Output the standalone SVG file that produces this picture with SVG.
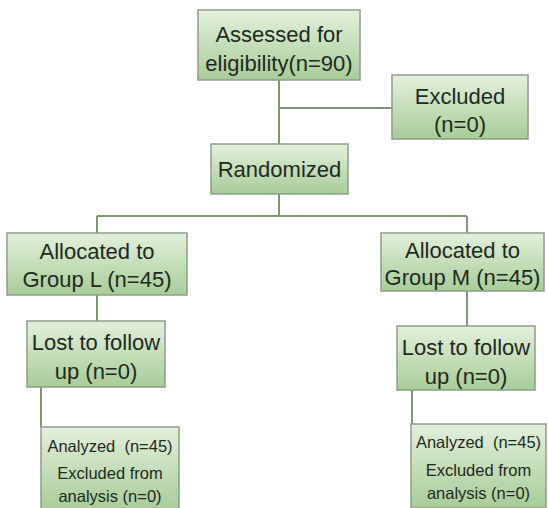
<svg xmlns="http://www.w3.org/2000/svg" width="548" height="508" viewBox="0 0 548 508">
<defs>
<linearGradient id="g" x1="0" y1="0" x2="0" y2="1">
<stop offset="0" stop-color="#e3f0dc"/>
<stop offset="1" stop-color="#a8cc98"/>
</linearGradient>
<style>
.b{fill:url(#g);stroke:#8e9d8a;stroke-width:1.5}
.t{font-family:"Liberation Sans",Arial,sans-serif;fill:#1e2a1e;text-anchor:middle}
.l{font-size:22px}
.s{font-size:16.5px}
.c{stroke:#7f9775;stroke-width:2;fill:none}
</style>
</defs>
<rect width="548" height="508" fill="#fff"/>
<g id="connectors">
<path class="c" d="M279,80V144M279,108H392M279,194V216M97,216H467M97,216V233M467,216V233M97,295V321M467,291V326M41,387V427M412,390V424"/>
</g>
<g id="assessed">
<rect class="b" x="198" y="10" width="162" height="70"/>
<text class="t l" x="279" y="42">Assessed for</text>
<text class="t l" x="279" y="71">eligibility(n=90)</text>
</g>
<g id="excluded">
<rect class="b" x="392" y="75" width="136" height="64"/>
<text class="t l" x="460" y="104">Excluded</text>
<text class="t l" x="460" y="132">(n=0)</text>
</g>
<g id="randomized">
<rect class="b" x="211" y="144" width="137" height="50"/>
<text class="t l" x="279.5" y="177">Randomized</text>
</g>
<g id="allocL">
<rect class="b" x="7" y="233" width="180" height="62"/>
<text class="t l" x="97" y="259">Allocated to</text>
<text class="t l" x="97" y="287">Group L (n=45)</text>
</g>
<g id="allocM">
<rect class="b" x="381" y="233" width="163" height="58"/>
<text class="t l" x="462.5" y="258">Allocated to</text>
<text class="t l" x="462.5" y="285">Group M (n=45)</text>
</g>
<g id="lostL">
<rect class="b" x="27" y="321" width="138" height="66"/>
<text class="t l" x="96" y="350">Lost to follow</text>
<text class="t l" x="96" y="379">up (n=0)</text>
</g>
<g id="lostM">
<rect class="b" x="397" y="326" width="138" height="64"/>
<text class="t l" x="466" y="355">Lost to follow</text>
<text class="t l" x="466" y="384">up (n=0)</text>
</g>
<g id="analyzedL">
<rect class="b" x="41" y="427" width="138" height="84"/>
<text class="t s" x="110" y="452">Analyzed&#160; (n=45)</text>
<text class="t s" x="110" y="479">Excluded from</text>
<text class="t s" x="110" y="502">analysis (n=0)</text>
</g>
<g id="analyzedM">
<rect class="b" x="411" y="424" width="135" height="84"/>
<text class="t s" x="478.5" y="448">Analyzed&#160; (n=45)</text>
<text class="t s" x="478.5" y="476">Excluded from</text>
<text class="t s" x="478.5" y="499">analysis (n=0)</text>
</g>
</svg>
